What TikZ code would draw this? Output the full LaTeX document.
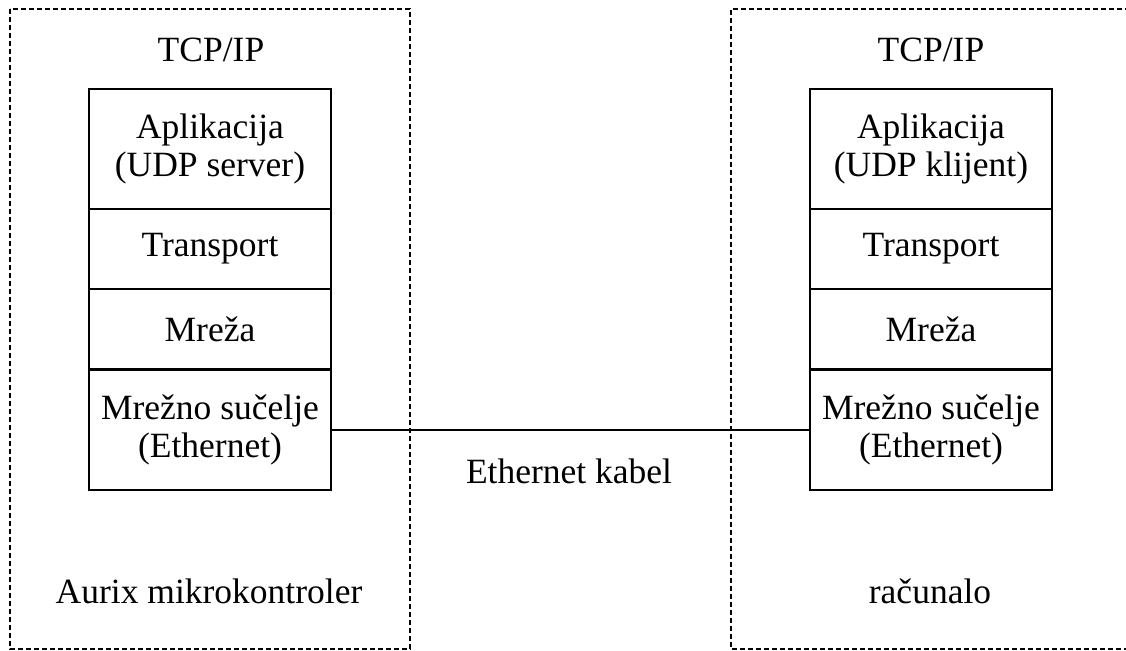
\documentclass[tikz,border=0pt]{standalone}
\usepackage{fontspec}
\setmainfont{Liberation Serif}
\newcommand{\dfont}{\fontsize{35.5}{38}\selectfont}
\begin{document}
\begin{tikzpicture}[x=1pt,y=-1pt,
  layer/.style={draw,line width=1.3pt,minimum width=242pt,inner sep=0pt,align=center,font=\dfont},
  lbl/.style={inner sep=0pt,align=center,font=\dfont},
  frame/.style={line width=1.3pt,dash pattern=on 5pt off 3pt}]
\useasboundingbox (0,0) rectangle (1126,650);
% device frames
\draw[frame] (10,9) rectangle (410,649);
\draw[frame] (1130,9) -- (731,9) -- (731,649) -- (1130,649);
% left stack
\node[layer,minimum height=120pt] (la) at (210,149) {Aplikacija\\(UDP server)};
\node[layer,minimum height=80pt] (lt) at (210,249) {Transport};
\node[layer,minimum height=80pt] (lm) at (210,329) {Mreža};
\node[layer,minimum height=120pt] (le) at (210,430) {Mrežno sučelje\\(Ethernet)};
% right stack
\node[layer,minimum height=120pt] (ra) at (931,149) {Aplikacija\\(UDP klijent)};
\node[layer,minimum height=80pt] (rt) at (931,249) {Transport};
\node[layer,minimum height=80pt] (rm) at (931,329) {Mreža};
\node[layer,minimum height=120pt] (re) at (931,430) {Mrežno sučelje\\(Ethernet)};
% labels
\node[lbl] (ltcp) at (211,50) {TCP/IP};
\node[lbl] (rtcp) at (931,50) {TCP/IP};
\node[lbl] (cable) at (569,471) {Ethernet kabel};
\node[lbl,anchor=base] (ldev) at (209,603) {Aurix mikrokontroler};
\node[lbl,anchor=base] (rdev) at (930,603) {računalo};
% cable
\draw[line width=1.3pt] (le.east) -- (re.west);
\end{tikzpicture}
\end{document}
